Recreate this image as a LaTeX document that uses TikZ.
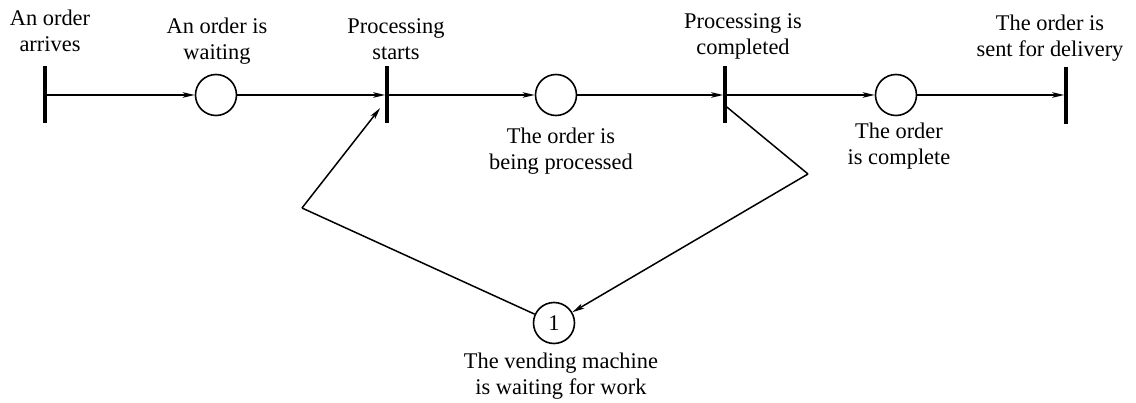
\documentclass[tikz,border=0pt]{standalone}
\usepackage{fontspec}
\setmainfont{Liberation Serif}
\usetikzlibrary{arrows.meta}
\begin{document}
\begin{tikzpicture}[x=1pt,y=-1pt,
  lbl/.style={align=center, inner sep=0pt, font=\rmfamily\fontsize{22.4}{26}\selectfont, anchor=north},
  place/.style={circle, draw, line width=1.6pt, minimum size=41pt, inner sep=0pt,
                font=\rmfamily\fontsize{22.4}{26}\selectfont},
  trans/.style={fill=black, draw=none, inner sep=0pt, minimum width=3.2pt, minimum height=57pt},
  arc/.style={line width=1.5pt, -{Stealth[length=12pt,width=5.5pt,inset=3pt]}},
  seg/.style={line width=1.5pt}]
\useasboundingbox (0,0) rectangle (1136,403);

% transitions (bars)
\node[trans] (t1) at (45,95) {};
\node[trans] (t2) at (387,95) {};
\node[trans] (t3) at (725,95) {};
\node[trans] (t4) at (1066,96) {};

% places
\node[place] (p1) at (216,95) {};
\node[place] (p2) at (556,95) {};
\node[place] (p3) at (896,95) {};
\node[place] (p4) at (554,323) {1};

% bends of the feedback loop
\coordinate (cl) at (302,208);
\coordinate (cr) at (808,174);

% main flow
\draw[arc] (t1) -- (p1);
\draw[arc] (p1) -- (t2);
\draw[arc] (t2) -- (p2);
\draw[arc] (p2) -- (t3);
\draw[arc] (t3) -- (p3);
\draw[arc] (p3) -- (p3 -| t4.west);

% machine resource loop
\draw[seg] (p4) -- (cl);
\draw[arc] (cl) -- ([xshift=-5pt,yshift=-13pt]t2.west);
\draw[seg] ([yshift=-12pt]t3.east) -- (cr);
\draw[arc] (cr) -- (p4);

% labels
\node[lbl] (l1) at (50,10) {An order\\arrives};
\node[lbl] (l2) at (217,18) {An order is\\waiting};
\node[lbl] (l3) at (396,18) {Processing\\starts};
\node[lbl] (l4) at (743,13) {Processing is\\completed};
\node[lbl] (l5) at (1050,15) {The order is\\sent for delivery};
\node[lbl] (l6) at (561,128) {The order is\\being processed};
\node[lbl] (l7) at (899,123) {The order\\is complete};
\node[lbl] (l8) at (561,353) {The vending machine\\is waiting for work};
\end{tikzpicture}
\end{document}
